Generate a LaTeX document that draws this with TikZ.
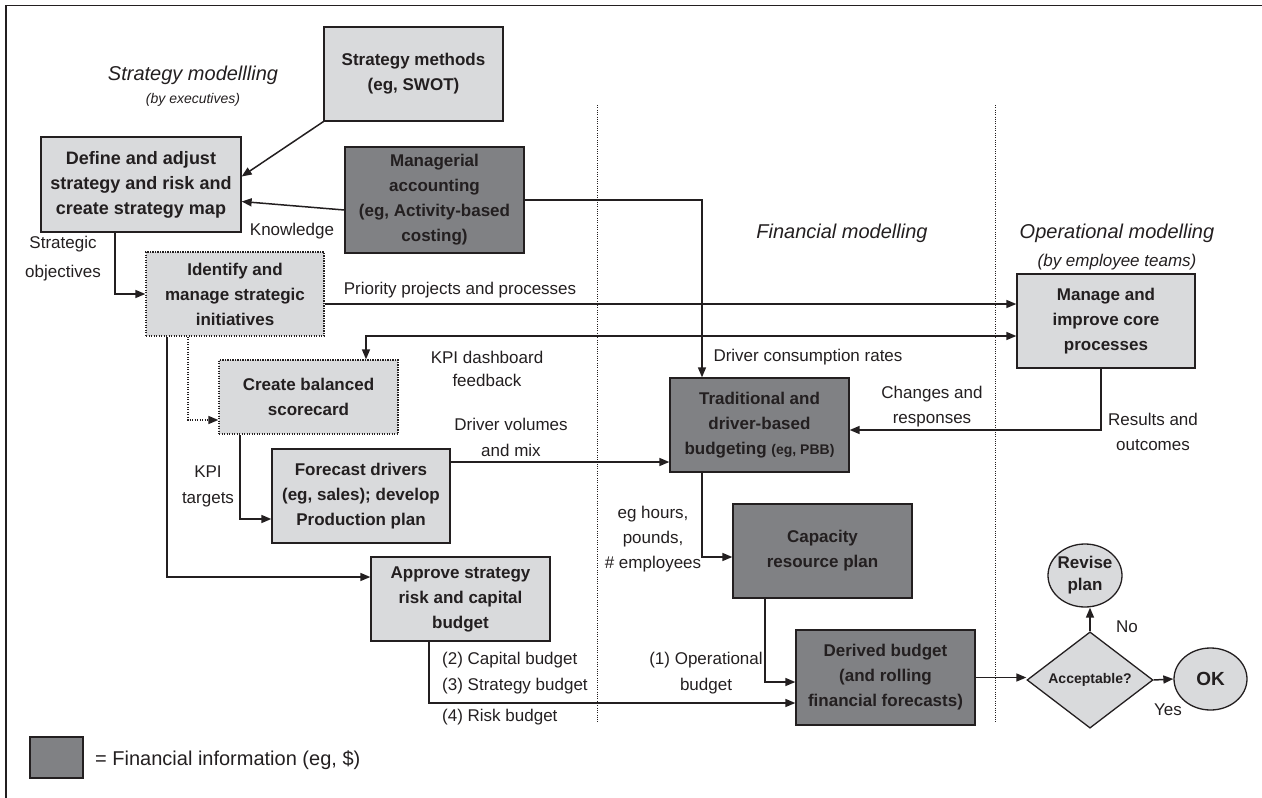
\documentclass[tikz,border=0pt]{standalone}
\usepackage{fontspec}
\setmainfont{Liberation Sans}
\usetikzlibrary{arrows.meta,shapes.geometric}
\definecolor{ink}{RGB}{35,31,32}
\definecolor{cPale}{RGB}{217,218,220}
\definecolor{cFin}{RGB}{128,129,132}
\tikzset{
  boxbase/.style={draw=ink, line width=1.3pt, text=ink, align=center, inner sep=0pt,
    font=\bfseries\fontsize{17}{25}\selectfont},
  palebox/.style={boxbase, fill=cPale},
  finbox/.style={boxbase, fill=cFin},
  dotbox/.style={boxbase, fill=cPale, dash pattern=on 1.2pt off 1.3pt},
  sz/.style 2 args={minimum width=#1pt, minimum height=#2pt},
  lbl/.style={text=ink, align=center, inner sep=0pt, font=\fontsize{17}{25}\selectfont},
  conn/.style={draw=ink, line width=1.5pt},
  tip/.tip={Triangle[length=10pt,width=8pt]},
  arr/.style={conn, -tip},
  dualarr/.style={conn, tip-tip},
  dotarr/.style={conn, -tip, dash pattern=on 1.2pt off 1.3pt},
  divider/.style={draw=ink, line width=0.9pt, dash pattern=on 1pt off 1.3pt},
  section/.style={text=ink, inner sep=0pt, font=\itshape\fontsize{20}{24}\selectfont},
  subsection/.style={text=ink, inner sep=0pt, font=\itshape\fontsize{14}{17}\selectfont},
}
\begin{document}
\begin{tikzpicture}[x=1pt, y=-1pt]
\useasboundingbox (0,0) rectangle (1262,798);

% outer frame (left and top edges)
\draw[ink, line width=1.5pt] (6,798) -- (6,5.5) -- (1262,5.5);

% column dividers
\draw[divider] (597,105) -- (597,723);
\draw[divider] (995,105) -- (995,723);

% column headings
\node[section] (hstrat) at (193,75) {Strategy modellling};
\node[subsection] (hstratsub) at (193,100) {(by executives)};
\node[section] (hfin) at (842,233) {Financial modelling};
\node[section] (hops) at (1117,233) {Operational modelling};
\node[subsection, font=\itshape\fontsize{17}{20}\selectfont] (hopssub) at (1117,262)
  {(by employee teams)};

% process boxes
\node[palebox, sz={179}{94}] (sm) at (413.5,74) {Strategy methods\\(eg, SWOT)};
\node[palebox, sz={200}{95}, font=\bfseries\fontsize{18}{25}\selectfont] (def) at (141,184.5)
  {Define and adjust\\strategy and risk and\\create strategy map};
\node[finbox, sz={179}{106}] (mac) at (434.5,200)
  {Managerial\\accounting\\(eg, Activity-based\\costing)};
\node[dotbox, sz={178}{84}] (idm) at (235,294) {Identify and\\manage strategic\\initiatives};
\node[dotbox, sz={179}{74}] (bsc) at (308.5,397) {Create balanced\\scorecard};
\node[palebox, sz={178}{94}] (fcd) at (361,496)
  {Forecast drivers\\(eg, sales); develop\\Production plan};
\node[palebox, sz={179}{84}] (apr) at (460.5,599) {Approve strategy\\risk and capital\\budget};
\node[palebox, sz={178}{94}] (mip) at (1106,321) {Manage and\\improve core\\processes};
\node[finbox, sz={179}{94}] (tdb) at (759.5,425)
  {Traditional and\\driver-based\\budgeting {\fontsize{14}{25}\selectfont (eg, PBB)}};
\node[finbox, sz={179}{94}] (crp) at (822.5,551) {Capacity\\resource plan};
\node[finbox, sz={179}{95}] (drb) at (885.5,677.5)
  {Derived budget\\(and rolling\\financial forecasts)};

% decision and outcomes
\node[diamond, draw=ink, fill=cPale, line width=1.3pt, text=ink, inner sep=0pt,
  minimum width=126pt, minimum height=92pt, font=\bfseries\fontsize{14}{17}\selectfont]
  (acc) at (1090,680) {Acceptable?};
\node[ellipse, draw=ink, fill=cPale, line width=1.3pt, text=ink, align=center,
  inner xsep=-8pt, inner ysep=0pt, minimum width=74pt, minimum height=63pt,
  font=\bfseries\fontsize{17}{22}\selectfont] (rev) at (1085,575.5) {Revise\\plan};
\node[ellipse, draw=ink, fill=cPale, line width=1.3pt, text=ink,
  inner sep=0pt, minimum width=73pt, minimum height=62pt,
  font=\bfseries\fontsize{19}{22}\selectfont] (ok) at (1210.5,679) {OK};

% connectors
\draw[arr] (sm.south west) -- ([yshift=8pt]def.east);
\draw[arr] ([yshift=-10pt]mac.west) -- ([yshift=-17pt]def.east);
\node[lbl] (lknow) at (292,231) {Knowledge};

\draw[arr] ([xshift=-26pt]def.south) |- (idm.west);
\node[lbl, font=\fontsize{17}{29}\selectfont] (lobj) at (63,259) {Strategic\\objectives};

\draw[arr] (idm.east |- 0,304) -- (mip.west |- 0,304);
\node[lbl] (lprio) at (460,290) {Priority projects and processes};

\draw[dualarr] (mip.west |- 0,336) -| ([xshift=57.5pt]bsc.north);
\node[lbl, font=\fontsize{17}{23}\selectfont] (lkpi) at (487,369) {KPI dashboard\\feedback};

\draw[arr] (mac.east) -| ([xshift=-57.5pt]tdb.north);
\node[lbl] (ldcr) at (808,357) {Driver consumption rates};

\draw[arr] (fcd.east |- 0,462) -- (tdb.west |- 0,462);
\node[lbl, font=\fontsize{17}{26}\selectfont] (ldvm) at (511,437) {Driver volumes\\and mix};

\draw[arr] ([xshift=-5pt]mip.south) |- ([yshift=-5pt]tdb.east);
\node[lbl] (lchg) at (932,407) {Changes and\\responses};
\node[lbl] (lres) at (1153,432) {Results and\\outcomes};

\draw[dotarr] ([xshift=-47pt]idm.south) |- ([yshift=-23pt]bsc.west);
\draw[arr] ([xshift=-68pt]idm.south) |- ([yshift=22pt]apr.west);
\draw[arr] ([xshift=-68.5pt]bsc.south) |- ([yshift=-23pt]fcd.west);
\node[lbl, font=\fontsize{17}{26}\selectfont] (ltgt) at (208,486) {KPI\\targets};

\draw[arr] ([xshift=-57.5pt]tdb.south) |- ([yshift=-6pt]crp.west);
\node[lbl] (lhrs) at (653,539) {eg hours,\\pounds,\\\# employees};

\draw[arr] ([xshift=-57.5pt]crp.south) |- ([yshift=-4.5pt]drb.west);
\node[lbl, font=\fontsize{17}{26}\selectfont] (lop) at (706,673) {(1) Operational\\budget};

\draw[arr] ([xshift=-31.5pt]apr.south) |- ([yshift=-25.5pt]drb.west);
\node[lbl, align=left, anchor=west, font=\fontsize{17}{26}\selectfont] (lcap) at (442,673)
  {(2) Capital budget\\(3) Strategy budget};
\node[lbl, anchor=west] (lrisk) at (442,717) {(4) Risk budget};

\draw[arr] (drb.east) -- (drb.east -| acc.west);
\draw[arr] (acc.north) -- (acc.north |- rev.south);
\node[lbl] (lno) at (1127,627) {No};
\draw[arr] (acc.east) -- (ok.west);
\node[lbl] (lyes) at (1168,710) {Yes};

% legend
\node[finbox, sz={53}{41}] (key) at (56.5,757.5) {};
\node[lbl, anchor=west, font=\fontsize{20}{24}\selectfont] (keytext) at (95,760)
  {= Financial information (eg, \$)};
\end{tikzpicture}
\end{document}
